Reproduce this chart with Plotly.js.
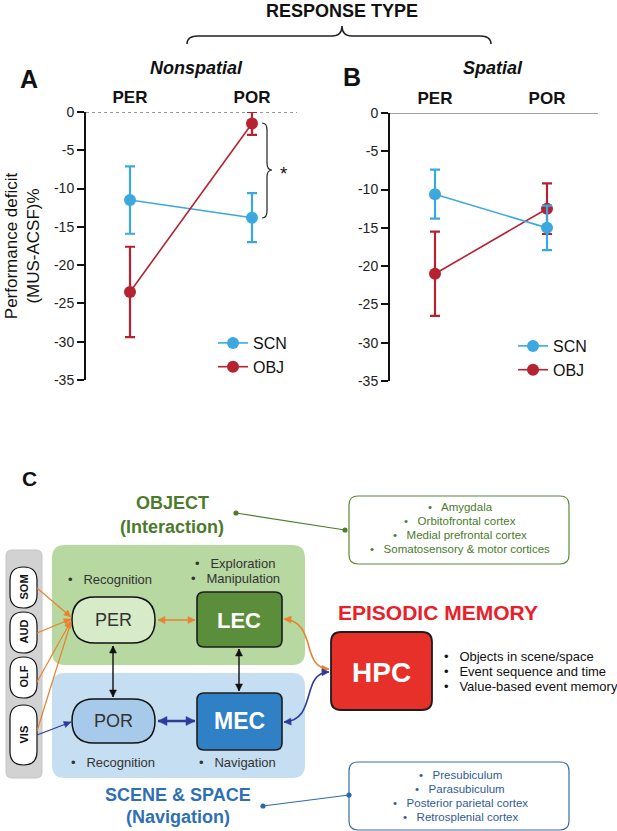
<!DOCTYPE html>
<html>
<head>
<meta charset="utf-8">
<script src="https://cdn.plot.ly/plotly-3.0.1.min.js"></script>
<style>html,body{margin:0;padding:0;background:#fff;}#chart{width:617px;height:831px;}</style>
</head>
<body>
<div id="chart"></div>
<script>
// ---------------- DATA ----------------
const categories = ['PER', 'POR'];
const scnNonspatial = [-11.5, -13.8];
const scnNonspatialErr = [4.4, 3.2];
const objNonspatial = [-23.5, -1.5];
const objNonspatialErr = [5.9, 1.5];
const scnSpatial = [-10.6, -15.0];
const scnSpatialErr = [3.2, 2.9];
const objSpatial = [-21.0, -12.5];
const objSpatialErr = [5.5, 3.3];
const yTickVals = [0, -5, -10, -15, -20, -25, -30, -35];
const yTickText = ['0', '-5', '-10', '-15', '-20', '-25', '-30', '-35'];
const seriesNames = ['SCN', 'OBJ'];

// ---------------- STYLE ----------------
const W = 617, H = 831;
const FONT = 'Liberation Sans, Arial, sans-serif';
const SCN_COLOR = '#3da8df';
const OBJ_COLOR = '#b52230';
const X = v => v / W;
const Y = v => 1 - v / H;

function series(x, y, err, name, color, xa, ya, leg, rank) {
  return {
    type: 'scatter', mode: 'lines+markers', x: x, y: y, name: name,
    xaxis: xa, yaxis: ya, legend: leg, legendrank: rank, cliponaxis: false,
    line: {color: color, width: 1.6},
    marker: {color: color, size: 12},
    error_y: {type: 'data', array: err, visible: true, color: color, thickness: 2.2, width: 5}
  };
}

const traces = [
  series(categories, scnNonspatial, scnNonspatialErr, seriesNames[0], SCN_COLOR, 'x', 'y', 'legend', 1),
  series(categories, objNonspatial, objNonspatialErr, seriesNames[1], OBJ_COLOR, 'x', 'y', 'legend', 2),
  series(categories, objSpatial, objSpatialErr, seriesNames[1], OBJ_COLOR, 'x2', 'y2', 'legend2', 2),
  series(categories, scnSpatial, scnSpatialErr, seriesNames[0], SCN_COLOR, 'x2', 'y2', 'legend2', 1)
];

function yAxis(domain, anchor, withTitle) {
  const ax = {
    domain: domain, anchor: anchor, range: [-35, 0], fixedrange: true,
    showgrid: false, zeroline: false, showline: true, linecolor: '#111', linewidth: 2,
    ticks: 'outside', ticklen: 7, tickwidth: 2, tickcolor: '#111',
    tickmode: 'array', tickvals: yTickVals, ticktext: yTickText,
    tickfont: {family: FONT, size: 14, color: '#222'}
  };
  if (withTitle) {
    ax.title = {text: 'Performance deficit<br>(MUS-ACSF)%', font: {family: FONT, size: 17, color: '#111'}, standoff: 10};
  }
  return ax;
}
function xAxis(domain, anchor, range) {
  return {
    domain: domain, anchor: anchor, type: 'category', range: range, fixedrange: true,
    side: 'top', showgrid: false, zeroline: false, showline: false,
    ticks: 'outside', ticklen: 1, tickcolor: 'rgba(0,0,0,0)',
    tickfont: {family: FONT, size: 17, color: '#111', weight: 'bold'}
  };
}

// ---------------- helpers for diagram ----------------
function rr(x0, y0, x1, y1, r) {
  const p = (x, y) => X(x) + ',' + Y(y);
  return 'M' + p(x0 + r, y0) + ' L' + p(x1 - r, y0) + ' Q' + p(x1, y0) + ' ' + p(x1, y0 + r) +
    ' L' + p(x1, y1 - r) + ' Q' + p(x1, y1) + ' ' + p(x1 - r, y1) +
    ' L' + p(x0 + r, y1) + ' Q' + p(x0, y1) + ' ' + p(x0, y1 - r) +
    ' L' + p(x0, y0 + r) + ' Q' + p(x0, y0) + ' ' + p(x0 + r, y0) + ' Z';
}
function box(x0, y0, x1, y1, r, fill, lineColor, lw) {
  return {type: 'path', xref: 'paper', yref: 'paper', path: rr(x0, y0, x1, y1, r),
    fillcolor: fill, line: {color: lineColor || 'rgba(0,0,0,0)', width: lw || 0}, layer: 'below'};
}
function head(tx, ty, fx, fy, len, wid, color) {
  const dx = tx - fx, dy = ty - fy, d = Math.hypot(dx, dy);
  const ux = dx / d, uy = dy / d, nx = -uy, ny = ux;
  const bx = tx - ux * len, by = ty - uy * len;
  const p = (x, y) => X(x) + ',' + Y(y);
  return {type: 'path', xref: 'paper', yref: 'paper',
    path: 'M' + p(tx, ty) + ' L' + p(bx + nx * wid, by + ny * wid) + ' L' + p(bx - nx * wid, by - ny * wid) + ' Z',
    fillcolor: color, line: {color: color, width: 0.5}};
}
function seg(x0, y0, x1, y1, color, w) {
  return {type: 'line', xref: 'paper', yref: 'paper', x0: X(x0), y0: Y(y0), x1: X(x1), y1: Y(y1),
    line: {color: color, width: w}};
}
function arrow(x0, y0, x1, y1, color, w, both, len, wid) {
  const out = [seg(x0, y0, x1, y1, color, w), head(x1, y1, x0, y0, len, wid, color)];
  if (both) out.push(head(x0, y0, x1, y1, len, wid, color));
  return out;
}
function curve(pts, color, w, len, wid) {
  const p = (x, y) => X(x) + ',' + Y(y);
  const [a, c1, c2, b] = pts;
  return [
    {type: 'path', xref: 'paper', yref: 'paper',
      path: 'M' + p(a[0], a[1]) + ' C' + p(c1[0], c1[1]) + ' ' + p(c2[0], c2[1]) + ' ' + p(b[0], b[1]),
      line: {color: color, width: w}},
    head(a[0], a[1], c1[0], c1[1], len, wid, color),
    head(b[0], b[1], c2[0], c2[1], len, wid, color)
  ];
}
function dot(x, y, r, color) {
  return {type: 'circle', xref: 'paper', yref: 'paper', x0: X(x - r), x1: X(x + r), y0: Y(y - r), y1: Y(y + r),
    fillcolor: color, line: {color: color, width: 0}};
}
function txt(t, x, y, size, color, opts) {
  const o = opts || {};
  return Object.assign({text: t, x: X(x), y: Y(y), xref: 'paper', yref: 'paper', showarrow: false,
    xanchor: 'center', yanchor: 'middle',
    font: {family: FONT, size: size, color: color, weight: o.bold ? 'bold' : 'normal', style: o.italic ? 'italic' : 'normal'}},
    o.extra || {});
}

const GREEN_T = '#4b7b2b', BLUE_T = '#2e6fb5', BOX2_T = '#2e5a99';
const ORANGE = '#e8822e', NAVY = '#2d3b9c', DARK = '#333333';

const shapes = [
  // zero lines
  {type: 'line', xref: 'x domain', yref: 'y', x0: 0, x1: 1, y0: 0, y1: 0, line: {color: '#333', width: 1, dash: '3px,3px'}, layer: 'below'},
  {type: 'line', xref: 'x2 domain', yref: 'y2', x0: 0, x1: 1, y0: 0, y1: 0, line: {color: '#808080', width: 1.6}, layer: 'below'},
  // top brace
  {type: 'path', xref: 'paper', yref: 'paper',
    path: 'M' + X(187) + ',' + Y(44) + ' Q' + X(187) + ',' + Y(36) + ' ' + X(198) + ',' + Y(36) +
      ' L' + X(332) + ',' + Y(36) + ' Q' + X(342) + ',' + Y(36) + ' ' + X(342) + ',' + Y(26) +
      ' Q' + X(342) + ',' + Y(36) + ' ' + X(352) + ',' + Y(36) + ' L' + X(480) + ',' + Y(36) +
      ' Q' + X(491) + ',' + Y(36) + ' ' + X(491) + ',' + Y(44),
    line: {color: '#222', width: 1.5}},
  // significance bracket
  {type: 'path', xref: 'paper', yref: 'paper',
    path: 'M' + X(262) + ',' + Y(123) + ' Q' + X(267) + ',' + Y(123) + ' ' + X(267) + ',' + Y(130) +
      ' L' + X(267) + ',' + Y(163) + ' Q' + X(267) + ',' + Y(170) + ' ' + X(272) + ',' + Y(170) +
      ' Q' + X(267) + ',' + Y(170) + ' ' + X(267) + ',' + Y(177) + ' L' + X(267) + ',' + Y(211) +
      ' Q' + X(267) + ',' + Y(218) + ' ' + X(262) + ',' + Y(218),
    line: {color: '#222', width: 1.2}},
  // diagram backgrounds
  box(6, 550, 42, 778, 6, '#d2d2d2', '#c4c4c4', 1),
  box(52, 545, 305, 665, 13, '#b7d8a1'),
  box(52, 673, 305, 778, 13, '#c6def2'),
  box(10, 567, 37, 608, 13.5, '#ffffff', '#111', 1.2),
  box(10, 612, 37, 653, 13.5, '#ffffff', '#111', 1.2),
  box(10, 657, 37, 698, 13.5, '#ffffff', '#111', 1.2),
  box(10, 705, 37, 765, 13.5, '#ffffff', '#111', 1.2),
  box(72, 597, 155, 643, 23, '#d8ebc9', '#111', 1.5),
  box(72, 699, 155, 743, 22, '#a8caea', '#111', 1.5),
  box(197, 592, 282, 647, 7, '#5a8e3a', '#1d1d1d', 1.6),
  box(197, 693, 282, 750, 7, '#2f80c5', '#1d1d1d', 1.6),
  box(331, 632, 432, 710, 10, '#e8302a', '#1d1d1d', 1.8),
  box(349, 496, 569, 564, 9, '#ffffff', '#5b8a3a', 1.2),
  box(349, 762, 569, 830, 9, '#ffffff', '#3a6aa8', 1.2)
];
shapes.push(
  ...arrow(158, 620, 195, 620, ORANGE, 1.6, true, 7, 3.5),
  ...arrow(113, 646, 113, 697, '#111', 1.4, true, 7, 3.5),
  ...arrow(239, 649, 239, 691, '#111', 1.4, true, 7, 3.5),
  ...arrow(158, 721, 195, 721, NAVY, 2.6, true, 9, 4.5),
  ...arrow(37, 588, 71, 617, ORANGE, 1.2, false, 7, 3.2),
  ...arrow(37, 633, 71, 619, ORANGE, 1.2, false, 7, 3.2),
  ...arrow(37, 682, 71, 621, ORANGE, 1.2, false, 7, 3.2),
  seg(37, 731, 71, 622, ORANGE, 1.2),
  ...arrow(37, 735, 71, 722, NAVY, 1.2, false, 7, 3.2),
  ...curve([[284, 619], [318, 622], [300, 668], [329, 669]], ORANGE, 1.6, 7, 3.5),
  ...curve([[329, 672], [300, 673], [318, 720], [284, 722]], NAVY, 1.6, 7, 3.5),
  seg(236, 513, 345, 530, '#4e7d2d', 1.2), dot(236, 513, 2.6, '#4e7d2d'), dot(345, 530, 2.6, '#4e7d2d'),
  seg(263, 806, 349, 795, '#2f6aa8', 1.2), dot(263, 806, 2.6, '#2f6aa8'), dot(349, 795, 2.6, '#2f6aa8')
);

const annotations = [
  txt('RESPONSE TYPE', 342, 11, 18, '#111', {bold: true}),
  txt('A', 29, 79, 25, '#111', {bold: true}),
  txt('Nonspatial', 196, 68, 18, '#111', {bold: true, italic: true}),
  txt('B', 352, 77, 25, '#111', {bold: true}),
  txt('Spatial', 493, 68, 18, '#111', {bold: true, italic: true}),
  txt('*', 284, 174, 19, '#111'),
  txt('C', 29, 478, 21, '#111', {bold: true}),
  txt('OBJECT', 172, 503, 18, GREEN_T, {bold: true}),
  txt('(Interaction)', 172, 527, 18, GREEN_T, {bold: true}),
  txt('•   Amygdala', 460, 507, 11.5, GREEN_T),
  txt('•   Orbitofrontal cortex', 460, 521, 11.5, GREEN_T),
  txt('•   Medial prefrontal cortex', 460, 535, 11.5, GREEN_T),
  txt('•   Somatosensory &amp; motor cortices', 460, 549, 11.5, GREEN_T),
  txt('SOM', 23.5, 587, 11, '#111', {bold: true, extra: {textangle: -90}}),
  txt('AUD', 23.5, 632, 11, '#111', {bold: true, extra: {textangle: -90}}),
  txt('OLF', 23.5, 677, 11, '#111', {bold: true, extra: {textangle: -90}}),
  txt('VIS', 23.5, 735, 11, '#111', {bold: true, extra: {textangle: -90}}),
  txt('•   Recognition', 110, 579, 13, DARK),
  txt('•   Exploration', 235, 563, 13, DARK),
  txt('•   Manipulation', 235, 578, 13, DARK),
  txt('PER', 113, 620, 18, DARK),
  txt('POR', 113, 721, 18, DARK),
  txt('LEC', 239, 620, 22, '#ffffff', {bold: true}),
  txt('MEC', 239, 721, 23, '#ffffff', {bold: true}),
  txt('HPC', 381, 672, 28, '#ffffff', {bold: true}),
  txt('EPISODIC MEMORY', 438, 612, 21, '#e8202a', {bold: true}),
  txt('•   Objects in scene/space', 442, 656, 13, '#111', {extra: {xanchor: 'left'}}),
  txt('•   Event sequence and time', 442, 671, 13, '#111', {extra: {xanchor: 'left'}}),
  txt('•   Value-based event memory', 442, 686, 13, '#111', {extra: {xanchor: 'left'}}),
  txt('•   Recognition', 113, 762, 13, DARK),
  txt('•   Navigation', 237, 762, 13, DARK),
  txt('SCENE &amp; SPACE', 178, 795, 18, BLUE_T, {bold: true}),
  txt('(Navigation)', 178, 817, 18, BLUE_T, {bold: true}),
  txt('•   Presubiculum', 460, 775, 11.5, BOX2_T),
  txt('•   Parasubiculum', 460, 789, 11.5, BOX2_T),
  txt('•   Posterior parietal cortex', 460, 803, 11.5, BOX2_T),
  txt('•   Retrosplenial cortex', 460, 817, 11.5, BOX2_T)
];

const legendStyle = (x, y) => ({
  x: X(x), y: Y(y), xanchor: 'left', yanchor: 'top', bgcolor: 'rgba(0,0,0,0)', borderwidth: 0,
  font: {family: FONT, size: 16, color: '#111'}, itemwidth: 30, tracegroupgap: 0
});

const layout = {
  width: W, height: H, margin: {l: 0, r: 0, t: 0, b: 0, pad: 0},
  paper_bgcolor: '#ffffff', plot_bgcolor: 'rgba(0,0,0,0)',
  font: {family: FONT, color: '#111'},
  showlegend: true,
  xaxis: xAxis([86 / W, 297 / W], 'y', [-0.3607, 1.3689]),
  yaxis: yAxis([1 - 380 / H, 1 - 112 / H], 'x', true),
  xaxis2: xAxis([390 / W, 598 / W], 'y2', [-0.4018, 1.4554]),
  yaxis2: yAxis([1 - 381 / H, 1 - 113 / H], 'x2', false),
  legend: legendStyle(213, 326),
  legend2: legendStyle(513, 329),
  shapes: shapes,
  annotations: annotations
};

Plotly.newPlot('chart', traces, layout, {staticPlot: true, displayModeBar: false});
</script>
</body>
</html>
